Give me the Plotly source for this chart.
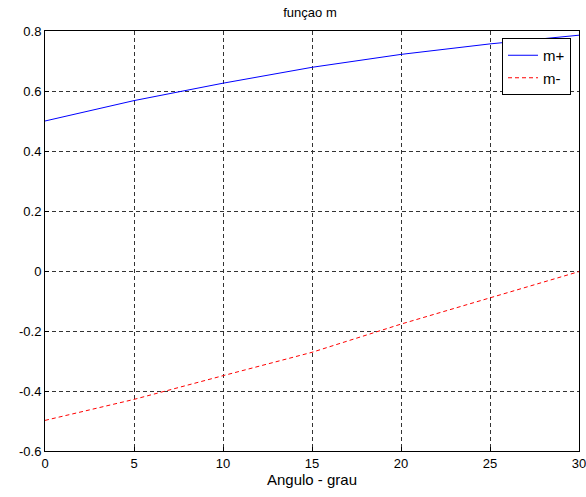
import plotly.graph_objects as go

angulo = [0, 5, 10, 15, 20, 25, 30]
m_plus = [0.500, 0.568, 0.626, 0.679, 0.722, 0.757, 0.786]
m_minus = [-0.498, -0.428, -0.349, -0.271, -0.177, -0.089, -0.002]

x_ticks = [0, 5, 10, 15, 20, 25, 30]
y_ticks = [-0.6, -0.4, -0.2, 0, 0.2, 0.4, 0.6, 0.8]
y_labels = ["-0.6", "-0.4", "-0.2", "0", "0.2", "0.4", "0.6", "0.8"]

FONT = "Liberation Sans, Arial"

fig = go.Figure()
fig.add_trace(go.Scatter(x=angulo, y=m_plus, mode="lines", name="m+",
                         line=dict(color="#0000ff", width=1)))
fig.add_trace(go.Scatter(x=angulo, y=m_minus, mode="lines", name="m-",
                         line=dict(color="#ff0000", width=1, dash="4px,3px")))

axis_common = dict(showline=True, mirror=True, linecolor="black", linewidth=1,
                   showgrid=True, gridcolor="#333333", gridwidth=1, griddash="4px,3px",
                   zeroline=False, ticks="inside", ticklen=4, tickcolor="black",
                   automargin=False, ticklabeloverflow="allow",
                   tickfont=dict(family=FONT, size=13, color="black"))

fig.update_layout(
    width=586, height=497,
    margin=dict(l=45, r=7, t=31, b=46),
    paper_bgcolor="white", plot_bgcolor="white",
    title=dict(text="funçao m", x=310 / 586, xanchor="center",
               y=1 - 12 / 497, yanchor="middle",
               font=dict(family=FONT, size=13, color="black")),
    xaxis=dict(range=[0, 30], tickvals=x_ticks,
               title=dict(text="Angulo - grau", standoff=2,
                          font=dict(family=FONT, size=15, color="black")),
               **axis_common),
    yaxis=dict(range=[-0.6, 0.8], tickvals=y_ticks, ticktext=y_labels, **axis_common),
    legend=dict(x=(571 - 45) / 534, y=(451 - 38) / 420, xanchor="right", yanchor="top",
                bgcolor="white", bordercolor="black", borderwidth=1,
                font=dict(family=FONT, size=15, color="black"),
                itemwidth=30, tracegroupgap=0),
    showlegend=True,
)

fig.write_html("out.html")
